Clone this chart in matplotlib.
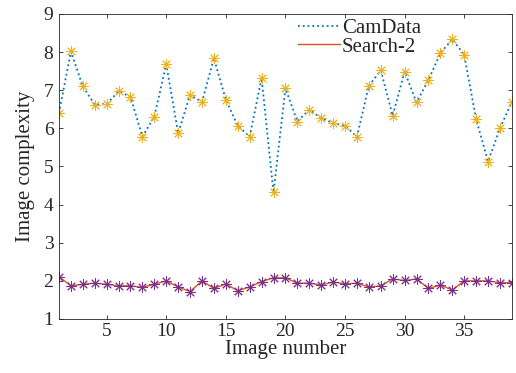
import numpy as np
import matplotlib
matplotlib.use("Agg")
import matplotlib.pyplot as plt
from matplotlib.lines import Line2D

plt.rcParams['font.family'] = ['Liberation Serif', 'DejaVu Serif']

image_number = np.arange(1, 40)
camdata = [6.40, 8.02, 7.10, 6.62, 6.64, 6.97, 6.83, 5.78, 6.31, 7.68,
           5.87, 6.88, 6.69, 7.84, 6.75, 6.07, 5.78, 7.32, 4.32, 7.05,
           6.18, 6.49, 6.27, 6.14, 6.07, 5.78, 7.12, 7.52, 6.33, 7.49,
           6.68, 7.27, 7.97, 8.34, 7.93, 6.24, 5.13, 6.00, 6.70]
search2 = [2.11, 1.87, 1.91, 1.94, 1.91, 1.87, 1.87, 1.83, 1.91, 2.00,
           1.84, 1.72, 2.00, 1.80, 1.92, 1.74, 1.84, 1.98, 2.08, 2.08,
           1.94, 1.94, 1.89, 1.97, 1.92, 1.94, 1.84, 1.87, 2.05, 2.01,
           2.05, 1.80, 1.89, 1.76, 2.00, 2.00, 2.00, 1.95, 1.95]

axcol = '#262626'
fig = plt.figure(figsize=(5.16, 3.73), dpi=100)
ax = fig.add_axes([0.1143, 0.1448, 0.8777, 0.8177])

# lines first, then asterisk markers on top (matlab style)
star = (8, 2, 0)
ax.plot(image_number, camdata, ':', color='#0072BD', lw=1.3)
ax.plot(image_number, camdata, ls='none', marker=star, color='#EDB120', ms=7.5, mew=0.7)
ax.plot(image_number, search2, '-', color='#D95319', lw=1.0)
ax.plot(image_number, search2, ls='none', marker=star, color='#7E2F8E', ms=7.5, mew=0.7)

ax.set_xlim(1, 39)
ax.set_ylim(1, 9)
ax.set_xticks([5, 10, 15, 20, 25, 30, 35])
ax.set_yticks(range(1, 10))
ax.tick_params(direction='in', top=True, right=True, labelsize=14, length=3,
               width=0.6, color=axcol, labelcolor=axcol, pad=3)
ax.tick_params(axis='y', pad=4)
for s in ax.spines.values():
    s.set_linewidth(0.6)
    s.set_color(axcol)
ax.set_xlabel('Image number', fontsize=15, labelpad=0, color=axcol)
ax.set_ylabel('Image complexity', fontsize=15, labelpad=6, color=axcol)

handles = [Line2D([], [], ls=':', color='#0072BD', lw=1.3),
           Line2D([], [], ls='-', color='#D95319', lw=1.0)]
ax.legend(handles, ['CamData', 'Search-2'], loc='upper left', bbox_to_anchor=(0.528, 0.985),
          frameon=False, fontsize=15, handlelength=2.0, handletextpad=0.1,
          labelspacing=-0.05, borderpad=0, borderaxespad=0, labelcolor=axcol)

fig.savefig('out.png', dpi=100)
